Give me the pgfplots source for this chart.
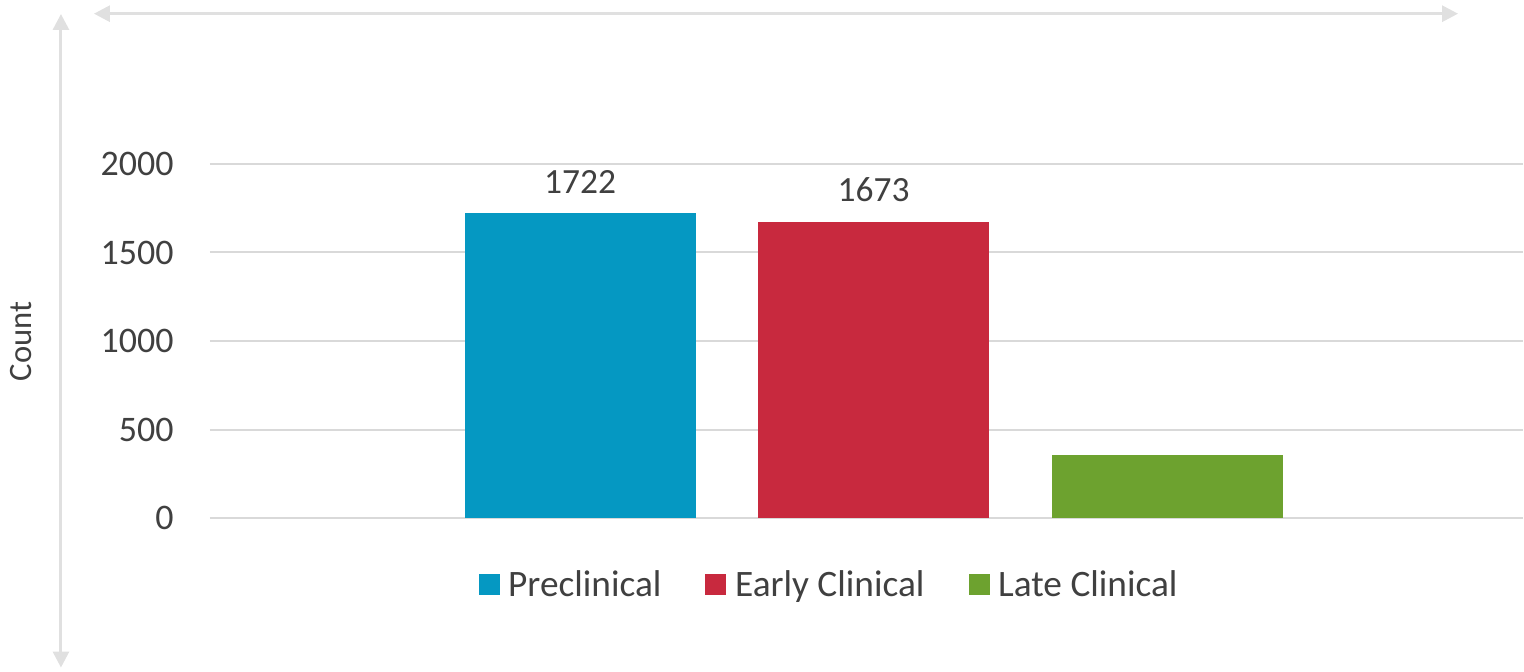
\documentclass[border=0pt]{standalone}
\usepackage{pgfplots}
\pgfplotsset{compat=1.18}
\usepackage{fontspec}
\setmainfont{Carlito}
\usetikzlibrary{arrows.meta}
\definecolor{cblue}{HTML}{0598C2}
\definecolor{cred}{HTML}{C8293E}
\definecolor{cgreen}{HTML}{6DA22F}
\definecolor{ctext}{HTML}{404040}
\definecolor{cgrid}{HTML}{D9D9D9}
\definecolor{carrow}{HTML}{E0E0E0}
\begin{document}
\begin{tikzpicture}[x=0.75pt,y=0.75pt]
\path (0,0) rectangle (1524,672);
\draw[carrow, line width=2.25pt, {Triangle[length=12pt,width=12pt]}-{Triangle[length=12pt,width=12pt]}] (94,658.3) -- (1459,658.3);
\draw[carrow, line width=2.25pt, {Triangle[length=12pt,width=12pt]}-{Triangle[length=12pt,width=12pt]}] (61,658) -- (61,4);
\begin{axis}[
  at={(157.5pt,115.125pt)}, anchor=south west,
  scale only axis, width=985.5pt, height=265.875pt,
  xmin=-0.2613, xmax=4.212, ymin=0, ymax=2000,
  axis line style={draw=none}, major tick style={draw=none},
  xtick=\empty, ytick={0,500,1000,1500,2000},
  ymajorgrids, grid style={cgrid, line width=1.5pt},
  /pgf/number format/assume math mode=true,
  /pgf/number format/1000 sep={},
  yticklabel style={anchor=east, inner sep=0pt, xshift=-27pt, font=\fontsize{27}{32}\selectfont, text=ctext},
  ylabel={Count},
  ylabel style={at={(axis description cs:-0.1438,0.4993)}, anchor=center, font=\fontsize{24.5}{29}\selectfont, text=ctext},
  legend columns=3,
  legend style={at={(axis description cs:0.4718,-0.1876)}, anchor=center, draw=none, fill=none,
    font=\fontsize{28}{33}\selectfont, text=ctext,
    /tikz/every even column/.append style={column sep=31pt}},
  legend image code/.code={\fill[#1] (0pt,-7.875pt) rectangle (15.75pt,7.875pt); \path (20.25pt,0pt);},
  nodes near coords style={anchor=south, inner sep=0pt, yshift=14.6pt, font=\fontsize{26.6}{32}\selectfont, text=ctext},
]
\addplot[ybar, bar width=173.25pt, bar shift=0pt, fill=cblue, draw=none, nodes near coords] coordinates {(1,1722)};
\addlegendentry{Preclinical}
\addplot[ybar, bar width=173.25pt, bar shift=0pt, fill=cred, draw=none, nodes near coords] coordinates {(2,1673)};
\addlegendentry{Early Clinical}
\addplot[ybar, bar width=173.25pt, bar shift=0pt, fill=cgreen, draw=none] coordinates {(3,358)};
\addlegendentry{Late Clinical}
\end{axis}
\end{tikzpicture}
\end{document}
